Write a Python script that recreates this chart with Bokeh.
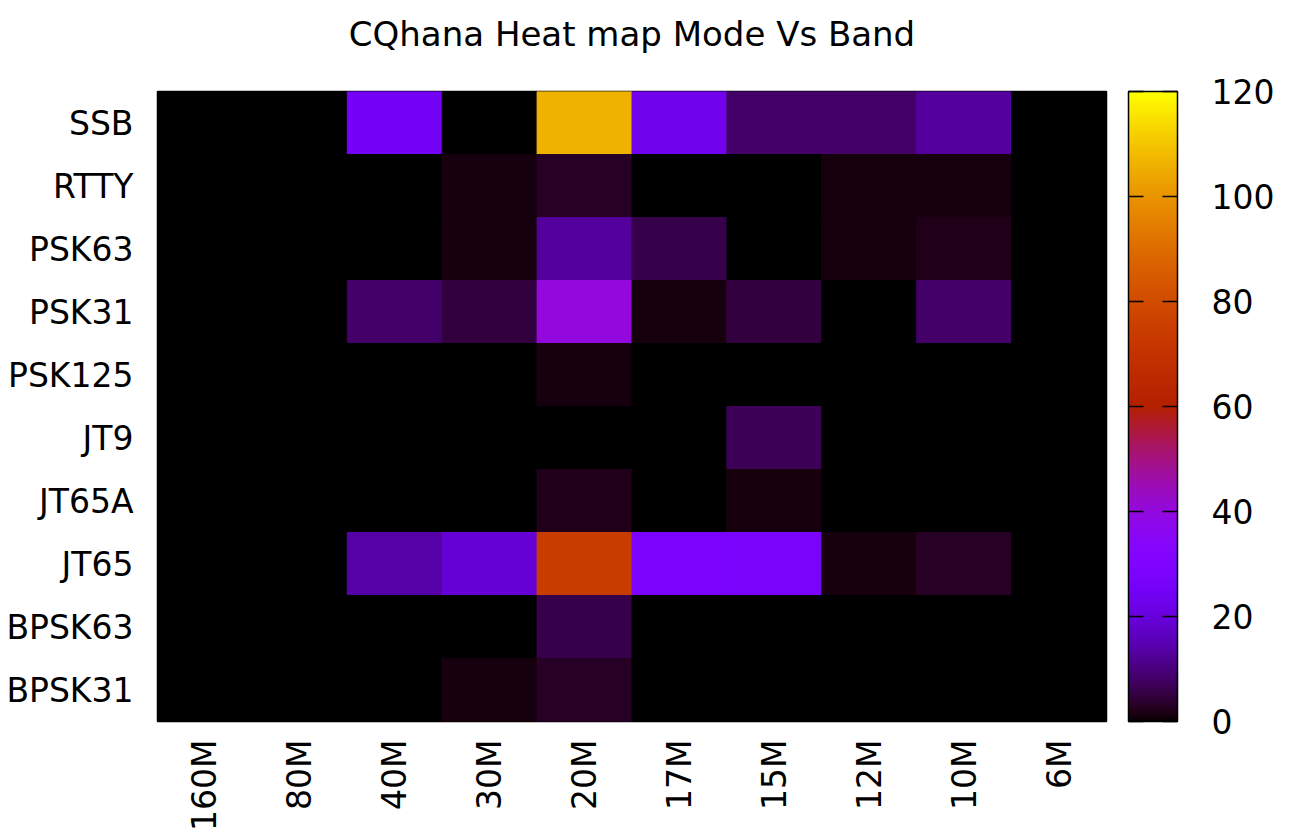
import math
from bokeh.plotting import figure
from bokeh.models import ColumnDataSource, LinearColorMapper, ColorBar, FixedTicker, Title
from bokeh.transform import transform
from bokeh.embed import file_html
from bokeh.resources import INLINE

# ---- data -------------------------------------------------------------
bands = ["160M", "80M", "40M", "30M", "20M", "17M", "15M", "12M", "10M", "6M"]
modes = ["SSB", "RTTY", "PSK63", "PSK31", "PSK125", "JT9", "JT65A", "JT65", "BPSK63", "BPSK31"]

ssb    = [0, 0, 25, 0, 106, 23, 8, 8, 13, 0]
rtty   = [0, 0, 0, 1, 3, 0, 0, 1, 1, 0]
psk63  = [0, 0, 0, 1, 13, 6, 0, 1, 2, 0]
psk31  = [0, 0, 8, 5, 40, 1, 5, 0, 8, 0]
psk125 = [0, 0, 0, 0, 1, 0, 0, 0, 0, 0]
jt9    = [0, 0, 0, 0, 0, 0, 7, 0, 0, 0]
jt65a  = [0, 0, 0, 0, 2, 0, 1, 0, 0, 0]
jt65   = [0, 0, 14, 19, 74, 28, 27, 1, 3, 0]
bpsk63 = [0, 0, 0, 0, 6, 0, 0, 0, 0, 0]
bpsk31 = [0, 0, 0, 1, 3, 0, 0, 0, 0, 0]

cbar_ticks = [0, 20, 40, 60, 80, 100, 120]
title_text = "CQhana Heat map Mode Vs Band"

rows = [ssb, rtty, psk63, psk31, psk125, jt9, jt65a, jt65, bpsk63, bpsk31]

xs, ys, vs = [], [], []
for m, row in zip(modes, rows):
    for b, v in zip(bands, row):
        xs.append(b)
        ys.append(m)
        vs.append(v)
src = ColumnDataSource(dict(band=xs, mode=ys, v=vs))

# gnuplot default palette (rgbformulae 7,5,15)
palette = []
for i in range(256):
    t = i / 255
    r = math.sqrt(t)
    g = t ** 3
    bl = max(0.0, math.sin(2 * math.pi * t))
    palette.append("#%02x%02x%02x" % (round(r * 255), round(g * 255), round(bl * 255)))

mapper = LinearColorMapper(palette=palette, low=0, high=120)

FONT = "DejaVu Sans"
FS = "33px"
FW, FH = 949, 630

p = figure(
    x_range=bands, y_range=list(reversed(modes)),
    frame_width=FW, frame_height=FH,
    output_backend="svg", toolbar_location=None,
    min_border_left=157, min_border_top=91, min_border_bottom=0, min_border_right=10,
    background_fill_color="white",
)
p.rect(x="band", y="mode", width=1, height=1, source=src,
       fill_color=transform("v", mapper), line_color=transform("v", mapper), line_width=1)

p.title.text = ""
# tiny white spacer next to the frame, then the real title above it
p.add_layout(Title(text=".", text_font_size="1px", text_color="white", standoff=19), "above")
p.add_layout(Title(text=title_text, align="center", vertical_align="top",
                   text_font=FONT, text_font_size="34px", text_font_style="normal",
                   text_color="black", standoff=27), "above")

p.grid.grid_line_color = None
p.axis.axis_line_color = None
p.axis.major_tick_line_color = None
p.axis.minor_tick_line_color = None
p.axis.major_tick_out = 0
p.axis.major_tick_in = 0
p.axis.major_label_text_font = FONT
p.axis.major_label_text_font_size = FS
p.axis.major_label_text_color = "black"
p.yaxis.major_label_standoff = 24
p.xaxis.major_label_standoff = 18
p.xaxis.major_label_orientation = math.pi / 2
p.outline_line_color = "black"
p.outline_line_width = 1.5
p.x_range.range_padding = 0
p.y_range.range_padding = 0

cb = ColorBar(
    color_mapper=mapper, ticker=FixedTicker(ticks=cbar_ticks),
    width=49, height=FH, padding=0, margin=0, location=(22, 0),
    label_standoff=34,
    major_label_text_font=FONT, major_label_text_font_size=FS,
    major_label_text_color="black",
    bar_line_color="black", bar_line_width=1.5,
    major_tick_line_color="black", major_tick_in=49, major_tick_out=0,
    major_tick_line_dash="15 19", major_tick_line_width=1.5,
    minor_tick_line_color=None,
    background_fill_color=None, border_line_color=None,
)
p.add_layout(cb, "right")

open("out.html", "w").write(file_html(p, INLINE))
